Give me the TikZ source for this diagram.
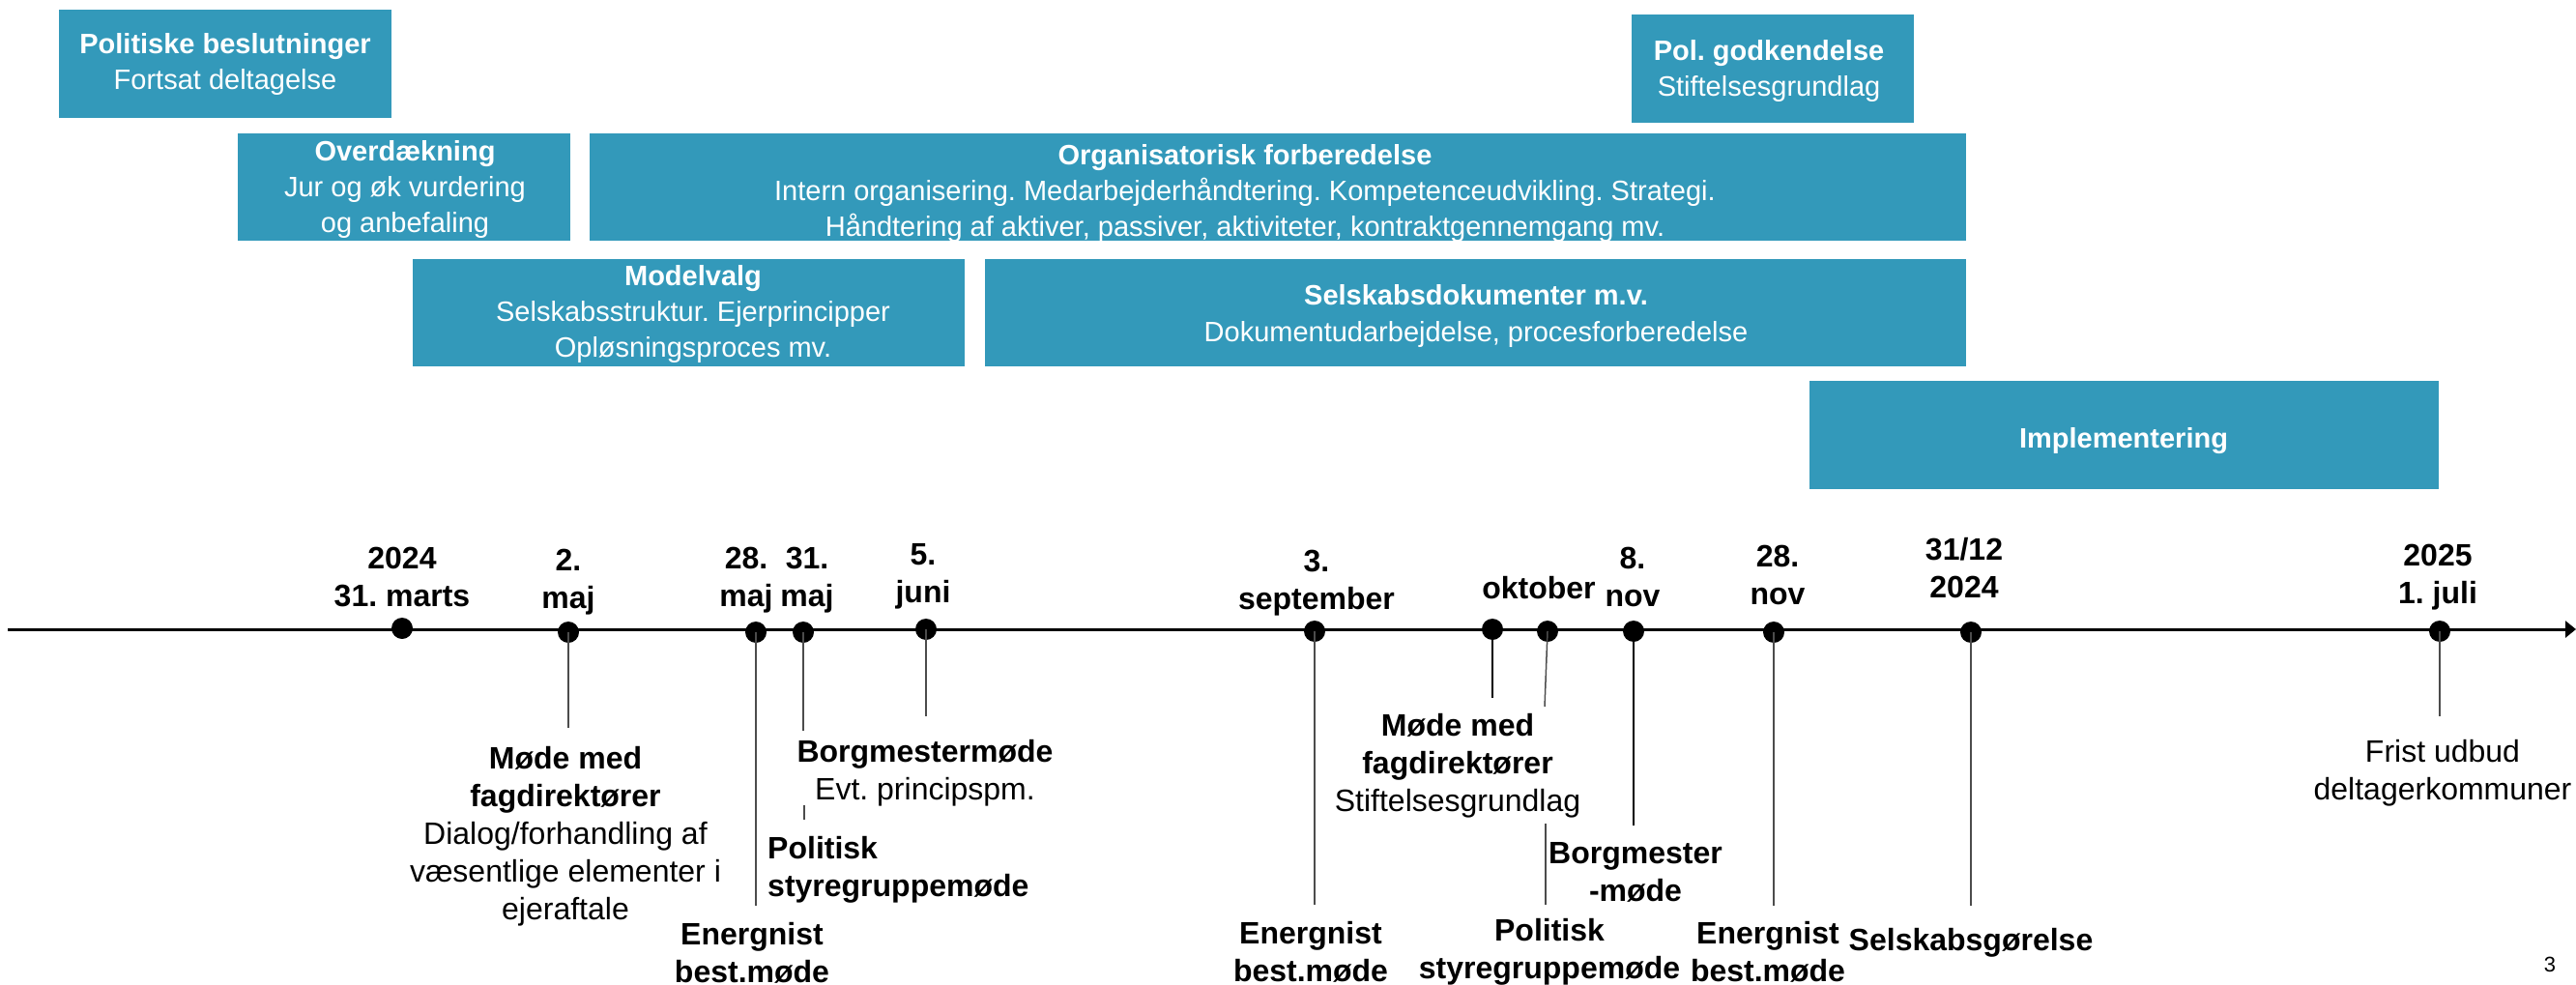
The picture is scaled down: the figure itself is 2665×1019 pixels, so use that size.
\documentclass[tikz,border=0pt]{standalone}
\usepackage{fontspec}
\setmainfont{Liberation Sans}
\usetikzlibrary{arrows.meta}
\definecolor{boxteal}{RGB}{51,153,186}
\newcommand\bxfont{\fontsize{29}{37}\selectfont}
\newcommand\tlfont{\fontsize{32}{39}\selectfont}
\frenchspacing
\begin{document}
\frenchspacing
\begin{tikzpicture}[x=1pt,y=-1pt,
  phase/.style={fill=boxteal, draw=none, inner sep=0, rectangle},
  phasetext/.style={text=white, align=center, font=\bxfont, inner sep=0},
  datelbl/.style={font=\tlfont\bfseries, align=center, inner sep=0},
  notelbl/.style={font=\tlfont, align=center, inner sep=0},
  dotnode/.style={circle, fill=black, inner sep=0, minimum size=22},
  leader/.style={draw=black!70, line width=1.5},
  leaderthick/.style={draw=black, line width=2.5},
]
\useasboundingbox (0,0) rectangle (2665,1019);

% phase boxes
\node[phase, minimum width=344, minimum height=112] (polbes) at (233,66) {};
\node[phasetext] (polbest) at (233,67) {\textbf{Politiske beslutninger}\\Fortsat deltagelse};
\node[phase, minimum width=344, minimum height=111] (overd) at (418,193.5) {};
\node[phasetext] (overdt) at (419,196) {\textbf{Overdækning}\\Jur og øk vurdering\\og anbefaling};
\node[phase, minimum width=1424, minimum height=111] (org) at (1322,193.5) {};
\node[phasetext] (orgt) at (1288,200) {\textbf{Organisatorisk forberedelse}\\Intern organisering. Medarbejderhåndtering. Kompetenceudvikling. Strategi.\\Håndtering af aktiver, passiver, aktiviteter, kontraktgennemgang mv.};
\node[phase, minimum width=571, minimum height=111] (model) at (712.5,323.5) {};
\node[phasetext] (modelt) at (717,325) {\textbf{Modelvalg}\\Selskabsstruktur. Ejerprincipper\\Opløsningsproces mv.};
\node[phase, minimum width=1015, minimum height=111] (selsk) at (1526.5,323.5) {};
\node[phasetext] (selskt) at (1527,327) {\textbf{Selskabsdokumenter m.v.}\\Dokumentudarbejdelse, procesforberedelse};
\node[phase, minimum width=292, minimum height=112] (polgod) at (1834,71) {};
\node[phasetext] (polgodt) at (1830,73.5) {\textbf{Pol. godkendelse}\\Stiftelsesgrundlag};
\node[phase, minimum width=651, minimum height=112] (impl) at (2197.5,450) {};
\node[phasetext] (implt) at (2197,456) {\textbf{Implementering}};

% timeline
\coordinate (tlstart) at (8,651);
\coordinate (tlend) at (2665,651);
\draw[line width=3, -{Triangle[length=11, width=17]}] (tlstart) -- (tlend);

% dots
\node[dotnode] (d1) at (416,650) {};
\node[dotnode] (d2) at (588,654) {};
\node[dotnode] (d3) at (782,654) {};
\node[dotnode] (d4) at (831,654) {};
\node[dotnode] (d5) at (958,651) {};
\node[dotnode] (d6) at (1360,653) {};
\node[dotnode] (d7) at (1544,651) {};
\node[dotnode] (d8) at (1601,653) {};
\node[dotnode] (d9) at (1690,653) {};
\node[dotnode] (d10) at (1835,654) {};
\node[dotnode] (d11) at (2039,654) {};
\node[dotnode] (d12) at (2524,653) {};

% date labels
\node[datelbl] (l1) at (416,597) {2024\\31. marts};
\node[datelbl] (l2) at (588,602) {2.\\maj};
\node[datelbl] (l3) at (772,600) {28.\\maj};
\node[datelbl] (l4) at (835,600) {31.\\maj};
\node[datelbl] (l5) at (955,596) {5.\\juni};
\node[datelbl] (l6) at (1362,603) {3.\\september};
\node[datelbl] (l7) at (1592,608) {oktober};
\node[datelbl] (l8) at (1689,597) {8.\\nov};
\node[datelbl] (l9) at (1839,595) {28.\\nov};
\node[datelbl] (l10) at (2032,588) {31/12\\2024};
\node[datelbl] (l11) at (2522,597) {2025\\1. juli};

% leader ends
\coordinate (e2) at (588,753);
\coordinate (e3) at (782,937);
\coordinate (e4) at (831,756);
\coordinate (e5) at (958,741);
\coordinate (e6) at (1360,936);
\coordinate (e7) at (1544,722);
\coordinate (e8) at (1598,731);
\coordinate (e9) at (1690,854);
\coordinate (e10) at (1835,937);
\coordinate (e11) at (2039,937);
\coordinate (e12) at (2524,741);
\coordinate (s1a) at (832,833);
\coordinate (s1b) at (832,848);
\coordinate (s2a) at (1599,852);
\coordinate (s2b) at (1599,936);

\draw[leader] (d2.center) -- (e2);
\draw[leader] (d3.center) -- (e3);
\draw[leader] (d4.center) -- (e4);
\draw[leader] (d5.center) -- (e5);
\draw[leader] (d6.center) -- (e6);
\draw[leaderthick] (d7.center) -- (e7);
\draw[leader] (d8.center) -- (e8);
\draw[leaderthick] (d9.center) -- (e9);
\draw[leader] (d10.center) -- (e10);
\draw[leader] (d11.center) -- (e11);
\draw[leader] (d12.center) -- (e12);
\draw[leader] (s1a) -- (s1b);
\draw[leader] (s2a) -- (s2b);

% notes below
\node[notelbl] (n2) at (585,865) {\textbf{Møde med}\\\textbf{fagdirektører}\\Dialog/forhandling af\\væsentlige elementer i\\ejeraftale};
\node[datelbl] (n3) at (778,986) {Energnist\\best.møde};
\node[notelbl] (n5) at (957,800) {\textbf{Borgmestermøde}\\Evt. principspm.};
\node[datelbl, align=left, anchor=west] (n4) at (794,900) {Politisk\\styregruppemøde};
\node[notelbl] (n7) at (1508,792) {\textbf{Møde med}\\\textbf{fagdirektører}\\Stiftelsesgrundlag};
\node[datelbl] (n6) at (1356,985) {Energnist\\best.møde};
\node[datelbl] (n8) at (1603,985) {Politisk\\styregruppemøde};
\node[datelbl] (n9) at (1692,902) {Borgmester\\-møde};
\node[datelbl] (n10) at (1829,985) {Energnist\\best.møde};
\node[datelbl] (n11) at (2039,975) {Selskabsgørelse};
\node[notelbl] (n12) at (2527,800) {Frist udbud\\deltagerkommuner};
\node[font=\fontsize{22}{26}\selectfont, inner sep=0] (pg) at (2638,998) {3};
\end{tikzpicture}
\end{document}
